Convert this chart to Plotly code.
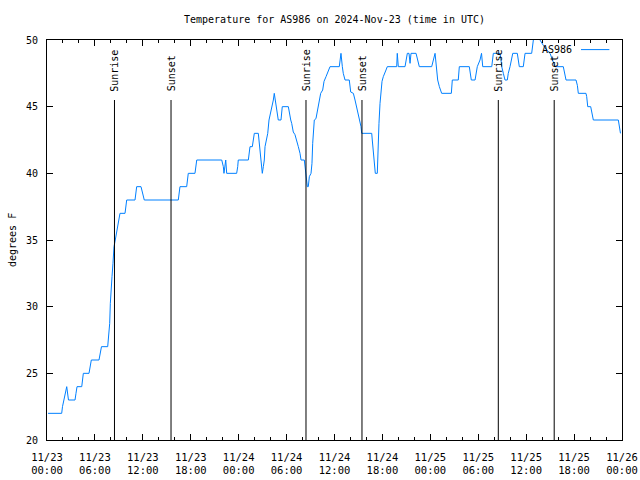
import plotly.graph_objects as go

# hours since 2024-11-23 00:00 UTC
hours = [0.13, 1.84, 1.94, 2.13, 2.47, 2.69, 3.51, 3.63, 3.76, 4.35, 4.42, 4.55, 5.26, 5.38, 5.55,
         6.51, 6.64, 6.82, 7.60, 7.76, 7.85, 7.93, 8.01, 8.14, 8.26, 8.39, 8.55, 8.68, 8.80, 8.98,
         9.14, 9.77, 9.98, 11.02, 11.23, 11.77, 11.98, 12.18, 16.44, 16.65, 17.49, 17.69, 18.53, 18.75,
         21.88, 22.08, 22.16, 22.29, 22.38, 22.50, 23.75, 23.88, 23.95, 25.21, 25.29, 25.42, 25.71,
         25.83, 25.96, 26.46, 26.55, 26.67, 26.76, 26.88, 26.96, 27.09, 27.21, 27.30, 27.51, 27.64,
         27.80, 28.01, 28.14, 28.34, 28.46, 28.64, 28.80, 28.96, 29.30, 29.39, 29.46, 30.22, 30.34,
         30.52, 30.64, 30.84, 31.05, 31.27, 31.47, 31.68, 31.81, 32.22, 32.31, 32.43, 32.60, 32.72,
         32.85, 33.06, 33.18, 33.27, 33.35, 33.47, 33.68, 33.85, 34.06, 34.27, 34.52, 34.69, 34.94,
         35.23, 35.44, 36.60, 36.69, 36.81, 36.98, 37.10, 37.32, 37.85, 38.03, 38.36, 38.57, 38.78,
         38.98, 39.19, 39.32, 39.41, 40.66, 40.73, 40.86, 40.99, 41.11, 41.36, 41.45, 41.57, 41.70,
         41.82, 41.95, 42.11, 42.32, 42.45, 42.61, 43.79, 43.86, 43.99, 44.83, 45.12, 45.33, 45.46,
         45.58, 46.21, 46.62, 48.17, 48.59, 48.80, 48.92, 49.13, 49.42, 50.63, 50.75, 51.50, 51.63,
         52.88, 53.01, 53.13, 53.60, 53.72, 53.88, 54.22, 54.41, 54.56, 55.69, 55.89, 56.72, 56.85,
         56.94, 57.14, 57.35, 57.64, 57.76, 57.98, 58.19, 58.32, 58.89, 59.02, 59.14, 59.64, 59.73,
         59.86, 60.69, 60.82, 60.90, 61.11, 61.48, 61.73, 62.15, 62.57, 62.99, 63.20, 63.40, 63.61,
         64.65, 64.86, 64.99, 66.24, 66.41, 66.53, 67.49, 67.58, 67.71, 68.08, 68.28, 68.41, 71.54,
         71.66, 71.81]
temps = [22, 22, 22.5, 23, 24, 23, 23, 23.5, 24, 24, 24.5, 25, 25, 25.5, 26,
         26, 26.5, 27, 27, 28, 28.75, 30.25, 31.5, 32.25, 33.25, 34.5, 35, 35.5, 36, 36.5,
         37, 37, 38, 38, 39, 39, 38.5, 38, 38, 39, 39, 40, 40, 41,
         41, 40.5, 40, 40.5, 41, 40, 40, 40.5, 41, 41, 41.5, 42, 42,
         42.5, 43, 43, 42.5, 42, 41, 40.5, 40, 40.5, 41, 42, 42.5, 43,
         44, 44.5, 45, 45.5, 46, 45.2, 44.5, 44, 44, 44.5, 45, 45, 44.5,
         44, 43.75, 43.1, 42.9, 42.5, 42, 41.5, 41, 41, 40.4, 39.75, 39, 39,
         39.75, 40, 40.75, 42.25, 43.25, 44, 44.1, 44.75, 45.25, 46, 46.25, 46.9, 47.25,
         47.75, 48, 48, 48.5, 49, 48, 47.5, 47, 47, 46.1, 46, 45.5, 45,
         44.4, 44, 43.5, 43, 43, 42.5, 41.5, 41, 40, 40, 42, 43.75, 45.25,
         46.25, 46.9, 47.25, 47.5, 47.75, 48, 48, 49, 48, 48, 49, 49, 48.25,
         49, 49, 48, 48, 49, 47.6, 47, 46.5, 46, 46, 47, 47, 48,
         48, 47.5, 47, 47, 47.6, 48, 48.5, 49, 48, 48, 49, 49, 48.5,
         48, 47.5, 47, 47, 47.5, 48, 48.5, 49, 49, 48.5, 48, 48, 48.5,
         49, 49, 49.6, 50.2, 51, 51, 50, 49.6, 49.25, 49, 48.6, 48.4, 48,
         48, 47.5, 47, 47, 46.6, 46, 46, 45.75, 45, 45, 44.5, 44, 44,
         43.5, 43]

sun_hours = [8.45, 15.53, 32.43, 39.44, 56.51, 63.51]
sun_labels = ["Sunrise", "Sunset", "Sunrise", "Sunset", "Sunrise", "Sunset"]

tick_hours = [0, 6, 12, 18, 24, 30, 36, 42, 48, 54, 60, 66, 72]
tick_labels = ["11/23<br>00:00", "11/23<br>06:00", "11/23<br>12:00", "11/23<br>18:00",
               "11/24<br>00:00", "11/24<br>06:00", "11/24<br>12:00", "11/24<br>18:00",
               "11/25<br>00:00", "11/25<br>06:00", "11/25<br>12:00", "11/25<br>18:00",
               "11/26<br>00:00"]
y_ticks = [20, 25, 30, 35, 40, 45, 50]

FONT = "DejaVu Sans Mono"
LINE_COLOR = "#0080ff"

fig = go.Figure()
fig.add_trace(go.Scatter(x=hours, y=temps, mode="lines",
                         line=dict(color=LINE_COLOR, width=1), showlegend=False,
                         hoverinfo="skip"))

for h, lab in zip(sun_hours, sun_labels):
    fig.add_shape(type="line", xref="x", yref="y", x0=h, x1=h, y0=20, y1=45.5,
                  line=dict(color="black", width=1))
    fig.add_annotation(x=h, y=46.0, xref="x", yref="y", text=lab, textangle=-90,
                       showarrow=False, xanchor="center", yanchor="bottom",
                       font=dict(family=FONT, size=10, color="black"))

# legend (gnuplot style: text then sample line)
fig.add_annotation(x=0.917, y=0.976, xref="paper", yref="paper", text="AS986",
                   showarrow=False, xanchor="right", yanchor="middle",
                   font=dict(family=FONT, size=10, color="black"))
fig.add_shape(type="line", xref="paper", yref="paper", x0=0.9287, x1=0.978,
              y0=0.976, y1=0.976, line=dict(color=LINE_COLOR, width=1))

# y axis title
fig.add_annotation(x=(12 - 47) / 575, y=0.5, xref="paper", yref="paper", text="degrees F",
                   showarrow=False, textangle=-90, xanchor="center", yanchor="middle",
                   font=dict(family=FONT, size=10, color="black"))

fig.update_layout(
    width=640, height=480,
    margin=dict(l=47, r=18, t=40, b=40, autoexpand=False),
    paper_bgcolor="white", plot_bgcolor="white",
    font=dict(family=FONT, size=10, color="black"),
    title=dict(text="Temperature for AS986 on 2024-Nov-23 (time in UTC)",
               x=(334.5) / 640, xanchor="center", y=1 - 19 / 480, yanchor="middle",
               yref="container", font=dict(family=FONT, size=10, color="black")),
    showlegend=False,
)
fig.update_xaxes(range=[0, 72], tickmode="array", tickvals=tick_hours, ticktext=tick_labels,
                 ticks="inside", ticklen=6, tickcolor="black", showline=True, linecolor="black",
                 linewidth=1, mirror="ticks", showgrid=False, zeroline=False, automargin=False,
                 ticklabelstandoff=7,
                 tickfont=dict(family=FONT, size=10.5, color="black"),
                 minor=dict(tickmode="linear", tick0=0, dtick=2, ticks="inside", ticklen=3,
                            tickcolor="black", showgrid=False))
fig.update_yaxes(range=[20, 50], tickmode="array", tickvals=y_ticks,
                 ticks="inside", ticklen=6, tickcolor="black", showline=True, linecolor="black",
                 linewidth=1, mirror="ticks", showgrid=False, zeroline=False, automargin=False,
                 ticklabelstandoff=6)

fig.write_html("out.html")
